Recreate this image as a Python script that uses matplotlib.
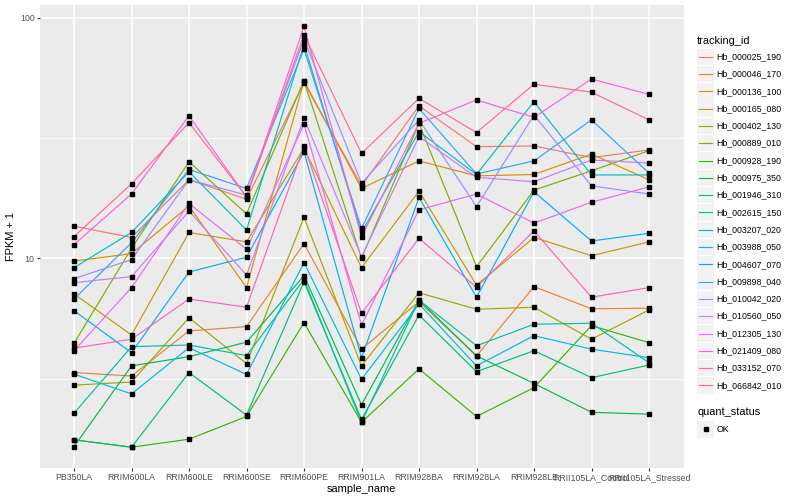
import matplotlib.pyplot as plt
from matplotlib.patches import Rectangle
from matplotlib.lines import Line2D
from matplotlib.ticker import NullFormatter
import numpy as np

plt.rcParams['font.family'] = ['Liberation Sans', 'DejaVu Sans']

samples = ["PB350LA", "RRIM600LA", "RRIM600LE", "RRIM600SE", "RRIM600PE",
           "RRIM901LA", "RRIM928BA", "RRIM928LA", "RRIM928LE",
           "RRII105LA_Control", "RRII105LA_Stressed"]

tracking_ids = ["Hb_000025_190", "Hb_000046_170", "Hb_000136_100", "Hb_000165_080",
                "Hb_000402_130", "Hb_000889_010", "Hb_000928_190", "Hb_000975_350",
                "Hb_001946_310", "Hb_002615_150", "Hb_003207_020", "Hb_003988_050",
                "Hb_004607_070", "Hb_009898_040", "Hb_010042_020", "Hb_010560_050",
                "Hb_012305_130", "Hb_021409_080", "Hb_033152_070", "Hb_066842_010"]

# ggplot hue palette for 20 levels
colors = ["#F8766D", "#EA8331", "#D89000", "#C09B00", "#A3A500", "#7CAE00",
          "#39B600", "#00BB4E", "#00BF7D", "#00C1A3", "#00BFC4", "#00BAE0",
          "#00B0F6", "#35A2FF", "#9590FF", "#C77CFF", "#E76BF3", "#FA62DB",
          "#FF62BC", "#FF6C91"]

# FPKM + 1, one list per tracking_id, in sample order
hb_000025_190 = [13.6, 12.2, 21.2, 17.6, 53.7, 20.0, 43.0, 29.1, 29.3, 26.2, 28.2]
hb_000046_170 = [3.35, 3.24, 4.99, 5.20, 11.5, 4.20, 6.60, 3.93, 7.62, 6.17, 6.20]
hb_000136_100 = [9.74, 10.45, 16.5, 7.55, 54.6, 19.5, 25.4, 22.0, 22.3, 27.1, 21.2]
hb_000165_080 = [7.11, 4.80, 12.8, 11.7, 28.7, 9.14, 19.0, 7.74, 12.2, 10.25, 11.7]
hb_000402_130 = [2.97, 3.06, 5.66, 3.65, 14.8, 3.57, 7.19, 6.14, 6.26, 4.61, 6.10]
hb_000889_010 = [4.43, 11.0, 25.2, 15.3, 54.6, 10.0, 36.4, 9.23, 19.2, 23.1, 28.0]
hb_000928_190 = [1.76, 1.64, 1.77, 2.20, 5.40, 2.08, 3.47, 2.20, 2.90, 5.25, 4.46]
hb_000975_350 = [1.65, 3.57, 3.90, 4.48, 8.47, 2.46, 6.71, 3.93, 3.02, 2.29, 2.25]
hb_001946_310 = [1.76, 1.64, 3.35, 2.23, 7.99, 2.14, 5.81, 3.38, 4.13, 3.19, 3.60]
hb_002615_150 = [2.27, 4.29, 4.36, 3.94, 8.18, 2.08, 6.71, 4.33, 5.32, 5.37, 3.68]
hb_003207_020 = [9.14, 12.8, 22.9, 13.1, 77.5, 12.8, 33.6, 22.3, 44.8, 22.2, 22.2]
hb_003988_050 = [3.30, 2.73, 4.25, 3.29, 9.59, 3.14, 6.46, 3.57, 4.77, 4.19, 3.86]
hb_004607_070 = [6.06, 4.05, 8.77, 10.1, 27.7, 3.86, 17.9, 6.89, 18.9, 11.8, 12.7]
hb_009898_040 = [6.77, 11.6, 23.4, 19.5, 73.9, 13.3, 42.0, 22.4, 25.4, 37.6, 22.6]
hb_010042_020 = [8.23, 9.87, 21.2, 18.3, 81.3, 20.5, 37.6, 16.4, 39.4, 20.0, 18.5]
hb_010560_050 = [7.92, 8.39, 15.7, 8.52, 38.2, 10.15, 32.0, 21.7, 20.8, 25.6, 24.9]
hb_012305_130 = [4.13, 7.55, 16.9, 10.9, 36.1, 5.28, 15.9, 18.5, 14.0, 17.1, 19.8]
hb_021409_080 = [11.4, 18.5, 39.1, 18.0, 92.1, 12.3, 36.4, 45.5, 38.5, 55.6, 48.0]
hb_033152_070 = [4.23, 4.61, 6.77, 6.26, 29.3, 5.91, 12.1, 7.58, 13.0, 6.89, 7.55]
hb_066842_010 = [12.3, 20.4, 36.6, 18.0, 85.0, 27.3, 46.2, 33.3, 52.9, 49.0, 37.6]

series = [hb_000025_190, hb_000046_170, hb_000136_100, hb_000165_080, hb_000402_130,
          hb_000889_010, hb_000928_190, hb_000975_350, hb_001946_310, hb_002615_150,
          hb_003207_020, hb_003988_050, hb_004607_070, hb_009898_040, hb_010042_020,
          hb_010560_050, hb_012305_130, hb_021409_080, hb_033152_070, hb_066842_010]

W, H = 800, 500
fig = plt.figure(figsize=(W / 100, H / 100), dpi=100)

# panel in pixel terms
p_left, p_right, p_top, p_bottom = 39.5, 683.5, 5, 468.3
ax = fig.add_axes([p_left / W, 1 - p_bottom / H, (p_right - p_left) / W, (p_bottom - p_top) / H])
ax.set_facecolor("#EBEBEB")
ax.set_axisbelow(True)
for s in ax.spines.values():
    s.set_visible(False)

x = np.arange(len(samples))
for vals, c in zip(series, colors):
    ax.plot(x, vals, color=c, linewidth=0.85, zorder=2)
for vals in series:
    ax.plot(x, vals, linestyle="none", marker="s", markersize=2.8, color="black", zorder=3)

ax.set_yscale("log")
ax.set_ylim(1.34, 112.9)
ax.set_xlim(-0.6, len(samples) - 0.4)

ax.set_yticks([10, 100])
ax.set_yticklabels(["10", "100"])
ax.set_yticks([10 ** 0.5, 10 ** 1.5], minor=True)
ax.yaxis.set_minor_formatter(NullFormatter())
ax.set_xticks(x)
ax.set_xticklabels(samples)

ax.grid(which="major", color="white", linewidth=1.1)
ax.grid(which="minor", axis="y", color="white", linewidth=0.55)
ax.tick_params(which="major", length=2.0, width=0.8, color="#333333",
               labelsize=6.3, labelcolor="#4D4D4D", pad=1.5)
ax.tick_params(which="minor", length=0)

ax.set_xlabel("sample_name", fontsize=7.9, labelpad=1.5)
ax.set_ylabel("FPKM + 1", fontsize=7.9, labelpad=3)

# legend drawn in pixel space, ggplot style
lg = fig.add_axes([0, 0, 1, 1], facecolor="none")
lg.set_xlim(0, W)
lg.set_ylim(H, 0)
lg.set_axis_off()

lg.text(697, 40.5, "tracking_id", fontsize=7.9, va="center", ha="left")
row_h = 17.3
key_x0, key_w = 697.3, 16.4
for i, (name, c) in enumerate(zip(tracking_ids, colors)):
    yc = 56.7 + i * row_h
    lg.add_patch(Rectangle((key_x0, yc - key_w / 2), key_w, key_w,
                           facecolor="#F2F2F2", edgecolor="none"))
    lg.add_line(Line2D([key_x0 + 1.7, key_x0 + key_w - 1.7], [yc, yc], color=c, linewidth=0.85))
    lg.text(716.5, yc, name, fontsize=6.3, va="center", ha="left")

lg.text(697, 411.7, "quant_status", fontsize=7.9, va="center", ha="left")
yc = 429.3
lg.add_patch(Rectangle((key_x0, yc - key_w / 2), key_w, key_w,
                       facecolor="#F2F2F2", edgecolor="none"))
lg.plot([key_x0 + key_w / 2], [yc], marker="s", markersize=2.8, color="black")
lg.text(716.5, yc, "OK", fontsize=6.3, va="center", ha="left")

fig.savefig("out.png", dpi=100)
